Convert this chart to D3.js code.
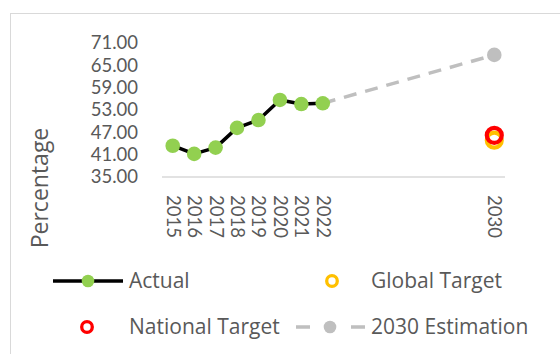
<!DOCTYPE html>
<html>
<head>
<meta charset="utf-8">
<script src="https://cdn.jsdelivr.net/npm/d3@7/dist/d3.min.js"></script>
<style>
  html, body { margin: 0; padding: 0; background: #fff; }
  svg { display: block; }
  text { font-family: "Open Sans", Lato, sans-serif; fill: #595959; }
</style>
</head>
<body>
<svg id="chart" width="560" height="354"></svg>
<script>
// Observed share by year
const actualYears = [2015, 2016, 2017, 2018, 2019, 2020, 2021, 2022];
const actualValues = [43.4, 41.2, 42.9, 48.2, 50.3, 55.7, 54.6, 54.8];

// Projection from the last observed year to 2030
const estimationYears = [2022, 2030];
const estimationValues = [54.8, 67.8];

// 2030 targets
const globalTarget = { year: 2030, value: 44.9 };
const nationalTarget = { year: 2030, value: 46.2 };

const yTicks = [35, 41, 47, 53, 59, 65, 71];
const xTickYears = [2015, 2016, 2017, 2018, 2019, 2020, 2021, 2022, 2030];

const colors = {
  actualLine: "#000000",
  actualMarker: "#92D050",
  global: "#FFC000",
  national: "#FF0000",
  estimation: "#BFBFBF",
  axis: "#D9D9D9"
};

const svg = d3.select("#chart");
const tickFont = 18.5;
const legendFont = 21;

// Chart frame
svg.append("rect")
  .attr("x", 10.5).attr("y", 13.5)
  .attr("width", 600).attr("height", 400)
  .attr("fill", "none").attr("stroke", colors.axis).attr("stroke-width", 1);

const x = d3.scaleLinear().domain([2014.5, 2030.5]).range([162, 505]);
const y = d3.scaleLinear().domain([35, 71]).range([177, 43]);

// Y axis labels (no axis line)
const yAxis = d3.axisLeft(y).tickValues(yTicks).tickFormat(d3.format(".2f")).tickSize(0).tickPadding(0);
const yg = svg.append("g").attr("transform", "translate(138,0)").call(yAxis);
yg.select(".domain").remove();
yg.selectAll("text")
  .style("font-family", "Lato, sans-serif")
  .style("font-size", tickFont + "px")
  .attr("fill", "#595959");

// X axis
const xAxis = d3.axisBottom(x).tickValues(xTickYears).tickFormat(d3.format("d")).tickSize(0);
const xg = svg.append("g").attr("transform", "translate(0,177)").call(xAxis);
xg.select(".domain").attr("stroke", colors.axis).attr("stroke-width", 1.3)
  .attr("d", `M${x.range()[0]},0H${x.range()[1]}`);
xg.selectAll("text")
  .style("font-family", "Lato, sans-serif")
  .style("font-size", tickFont + "px")
  .attr("fill", "#595959")
  .attr("transform", "rotate(90)")
  .attr("x", 18).attr("y", 0)
  .attr("dy", "0.35em")
  .attr("text-anchor", "start");

// Axis title
svg.append("text")
  .attr("transform", "translate(48,188) rotate(-90)")
  .attr("text-anchor", "middle")
  .style("font-size", "23px")
  .text("Percentage");

// Estimation dashed line
const line = d3.line().x(d => x(d[0])).y(d => y(d[1]));
const estData = estimationYears.map((yr, i) => [yr, estimationValues[i]]);
svg.append("path")
  .datum(estData)
  .attr("d", line)
  .attr("fill", "none")
  .attr("stroke", colors.estimation)
  .attr("stroke-width", 3.5)
  .attr("stroke-dasharray", "13,9");
svg.append("circle")
  .attr("cx", x(estData[1][0])).attr("cy", y(estData[1][1]))
  .attr("r", 7.3).attr("fill", colors.estimation);

// Actual series
const actData = actualYears.map((yr, i) => [yr, actualValues[i]]);
svg.append("path")
  .datum(actData)
  .attr("d", line)
  .attr("fill", "none")
  .attr("stroke", colors.actualLine)
  .attr("stroke-width", 3.5)
  .attr("stroke-linejoin", "round");
svg.selectAll(".act")
  .data(actData)
  .enter().append("circle")
  .attr("cx", d => x(d[0])).attr("cy", d => y(d[1]))
  .attr("r", 7.3).attr("fill", colors.actualMarker);

// Targets
[[globalTarget, colors.global], [nationalTarget, colors.national]].forEach(([t, c]) => {
  svg.append("circle")
    .attr("cx", x(t.year)).attr("cy", y(t.value))
    .attr("r", 7.5).attr("fill", "none")
    .attr("stroke", c).attr("stroke-width", 4.2);
});

// Legend
const legend = svg.append("g");
const rows = [281, 327];

function legendText(tx, ty, label) {
  legend.append("text").attr("x", tx).attr("y", ty).attr("dy", "0.35em")
    .style("font-size", legendFont + "px").text(label);
}

// Actual
legend.append("line").attr("x1", 53).attr("x2", 123).attr("y1", rows[0]).attr("y2", rows[0])
  .attr("stroke", colors.actualLine).attr("stroke-width", 3.5);
legend.append("circle").attr("cx", 88).attr("cy", rows[0]).attr("r", 6.3).attr("fill", colors.actualMarker);
legendText(129, rows[0], "Actual");

// Global target
legend.append("circle").attr("cx", 332).attr("cy", rows[0]).attr("r", 5.3)
  .attr("fill", "none").attr("stroke", colors.global).attr("stroke-width", 3.3);
legendText(371, rows[0], "Global Target");

// National target
legend.append("circle").attr("cx", 87).attr("cy", rows[1]).attr("r", 5.3)
  .attr("fill", "none").attr("stroke", colors.national).attr("stroke-width", 3.3);
legendText(129, rows[1], "National Target");

// 2030 estimation
legend.append("line").attr("x1", 296).attr("x2", 365).attr("y1", rows[1]).attr("y2", rows[1])
  .attr("stroke", colors.estimation).attr("stroke-width", 3.5).attr("stroke-dasharray", "14,41");
legend.append("circle").attr("cx", 330).attr("cy", rows[1]).attr("r", 6.3).attr("fill", colors.estimation);
legendText(371, rows[1], "2030 Estimation");
</script>
</body>
</html>
